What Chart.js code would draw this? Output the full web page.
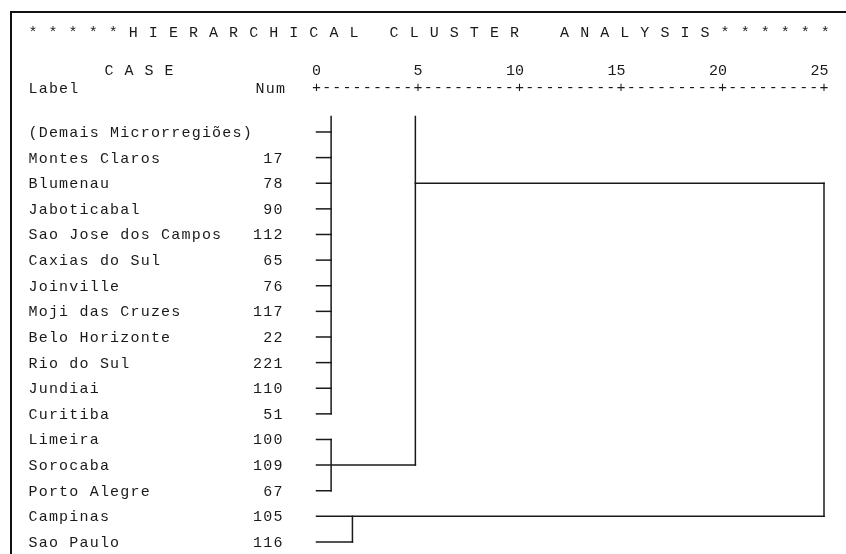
<!DOCTYPE html>
<html>
<head>
<meta charset="utf-8">
<script src="https://cdn.jsdelivr.net/npm/chart.js@4/dist/chart.umd.min.js"></script>
<style>
html,body{margin:0;padding:0;background:#fff;}
#wrap{width:846px;height:554px;position:relative;}
canvas{display:block;}
</style>
</head>
<body>
<div id="wrap"><canvas id="c" width="846" height="554"></canvas></div>
<script>
// ---- data ----
const titleText = '* * * * * H I E R A R C H I C A L   C L U S T E R    A N A L Y S I S * * * * * *';
const caseLabels = ['(Demais Microrregiões)', 'Montes Claros', 'Blumenau', 'Jaboticabal', 'Sao Jose dos Campos',
  'Caxias do Sul', 'Joinville', 'Moji das Cruzes', 'Belo Horizonte', 'Rio do Sul', 'Jundiai', 'Curitiba',
  'Limeira', 'Sorocaba', 'Porto Alegre', 'Campinas', 'Sao Paulo'];
const caseNums = ['', '17', '78', '90', '112', '65', '76', '117', '22', '221', '110', '51', '100', '109', '67', '105', '116'];
// rescaled distance where each case's horizontal line ends
const leafEnd = [0.72, 0.72, 0.72, 0.72, 0.72, 0.72, 0.72, 0.72, 0.72, 0.72, 0.72, 0.72, 0.72, 4.87, 0.72, 25, 1.77];
// vertical joins: distance, first row, last row (-0.6 = tree continues above the listed cases)
const joinX = [0.72, 0.72, 1.77, 4.87, 25];
const joinTop = [-0.6, 12, 15, -0.6, 2];
const joinBottom = [11, 14, 16, 13, 15];
// cluster links carried on a row
const linkRow = [2];
const linkFrom = [4.87];
const linkTo = [25];
const tickValues = [0, 5, 10, 15, 20, 25];
const tickLabels = ['0', '5', '10', '15', '20', '25'];

// ---- build datasets ----
const LINE = '#1a1a1a';
const datasets = [];
function seg(x1, y1, x2, y2) {
  datasets.push({
    data: [{x: x1, y: y1}, {x: x2, y: y2}],
    showLine: true, borderColor: LINE, borderWidth: 1.5, pointRadius: 0,
    fill: false, tension: 0, borderCapStyle: 'square', clip: false
  });
}
caseLabels.forEach((_, i) => seg(0, i, leafEnd[i], i));
joinX.forEach((x, k) => seg(x, joinTop[k], x, joinBottom[k]));
linkRow.forEach((r, k) => seg(linkFrom[k], r, linkTo[k], r));

const FONT = '"Liberation Mono", "Courier New", monospace';
const TEXT = '#1a1a1a';

const sheetPlugin = {
  id: 'sheet',
  beforeDraw(chart) {
    const ctx = chart.ctx;
    ctx.save();
    ctx.fillStyle = '#fff';
    ctx.fillRect(0, 0, chart.width, chart.height);
    ctx.fillStyle = '#111';
    ctx.fillRect(10, 11, chart.width - 10, 2);
    ctx.fillRect(10, 11, 2, chart.height - 11);
    ctx.restore();
  },
  afterDraw(chart) {
    const ctx = chart.ctx, xs = chart.scales.x, ys = chart.scales.y;
    ctx.save();
    ctx.fillStyle = TEXT;
    ctx.font = '15px ' + FONT;
    ctx.textAlign = 'center';
    ctx.textBaseline = 'alphabetic';
    const mono = (s, x0, y, p) => {
      for (let i = 0; i < s.length; i++) if (s[i] !== ' ') ctx.fillText(s[i], x0 + i * p, y);
    };
    mono(titleText, 33, 37, 10.03);
    mono('C A S E', 109, 75, 10);
    mono('Label', 33, 93, 10.2);
    mono('Num', 260, 93, 10.2);
    // axis rule "+---------+"
    ctx.textBaseline = 'middle';
    const axisY = 88.5;
    tickValues.forEach((v, i) => {
      const px = xs.getPixelForValue(v);
      ctx.fillText('+', px, axisY);
      if (i < tickValues.length - 1) {
        const nx = xs.getPixelForValue(tickValues[i + 1]);
        for (let k = 1; k < 10; k++) ctx.fillText('-', px + (nx - px) * k / 10, axisY);
      }
    });
    ctx.textBaseline = 'alphabetic';
    caseLabels.forEach((lab, i) => {
      const y = ys.getPixelForValue(i) + 5;
      mono(lab, 33, y, 10.2);
      const n = caseNums[i];
      mono(n, 278 - (n.length - 1) * 10.2, y, 10.2);
    });
    ctx.restore();
  }
};

new Chart(document.getElementById('c'), {
  type: 'scatter',
  data: { datasets },
  options: {
    responsive: false,
    animation: false,
    devicePixelRatio: 1,
    layout: { padding: { left: 316.5, right: 22, top: 0, bottom: 1.75 } },
    plugins: { legend: { display: false }, tooltip: { enabled: false }, title: { display: false } },
    scales: {
      x: {
        type: 'linear', position: 'top', min: 0, max: 25,
        afterBuildTicks: s => { s.ticks = tickValues.map(v => ({ value: v })); },
        afterFit: s => { s.height = 116.6; },
        ticks: {
          // first line is the number (right-aligned on the tick column), two blank lines lift it above the rule
          callback: (v) => {
            const t = tickLabels[tickValues.indexOf(v)];
            return [t.length > 1 ? t + ' '.repeat(t.length - 1) : t, '', ''];
          },
          font: { family: FONT, size: 15, lineHeight: 1.2 }, color: TEXT, padding: 1,
          maxRotation: 0, autoSkip: false
        },
        grid: { display: false, drawTicks: false },
        border: { display: false }
      },
      y: { type: 'linear', reverse: true, min: -0.6, max: 16.4, display: false }
    }
  },
  plugins: [sheetPlugin]
});
</script>
</body>
</html>
